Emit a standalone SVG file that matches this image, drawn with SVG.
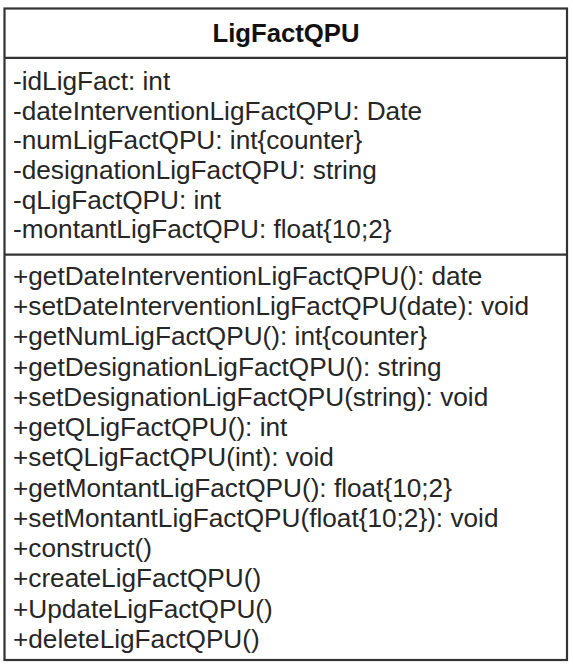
<svg xmlns="http://www.w3.org/2000/svg" width="573" height="666" viewBox="0 0 573 666">
<style>
.t{font-family:"Liberation Sans",Arial,sans-serif;font-size:25px;fill:#262626}
.h{font-family:"Liberation Sans",Arial,sans-serif;font-size:25.7px;font-weight:bold;fill:#111}
.b{fill:#fff;stroke:#333;stroke-width:2.2}
.d{stroke:#333;stroke-width:2.2}
</style>
<rect width="573" height="666" fill="#fff"/>
<g id="LigFactQPU">
<rect class="b" x="4.5" y="8.5" width="562.5" height="651.5"/>
<line class="d" x1="4.5" y1="57.8" x2="567" y2="57.8"/>
<line class="d" x1="4.5" y1="254.7" x2="567" y2="254.7"/>
<text class="h" x="286" y="41.8" text-anchor="middle">LigFactQPU</text>
<g transform="translate(13,0) scale(1.048,1)">
<text class="t" x="0" y="90">-idLigFact: int</text>
<text class="t" x="0" y="119.7">-dateInterventionLigFactQPU: Date</text>
<text class="t" x="0" y="149.4">-numLigFactQPU: int{counter}</text>
<text class="t" x="0" y="179.1">-designationLigFactQPU: string</text>
<text class="t" x="0" y="208.8">-qLigFactQPU: int</text>
<text class="t" x="0" y="238.5">-montantLigFactQPU: float{10;2}</text>
<text class="t" x="0" y="285">+getDateInterventionLigFactQPU(): date</text>
<text class="t" x="0" y="315.25">+setDateInterventionLigFactQPU(date): void</text>
<text class="t" x="0" y="345.5">+getNumLigFactQPU(): int{counter}</text>
<text class="t" x="0" y="375.75">+getDesignationLigFactQPU(): string</text>
<text class="t" x="0" y="406">+setDesignationLigFactQPU(string): void</text>
<text class="t" x="0" y="436.25">+getQLigFactQPU(): int</text>
<text class="t" x="0" y="466.5">+setQLigFactQPU(int): void</text>
<text class="t" x="0" y="496.75">+getMontantLigFactQPU(): float{10;2}</text>
<text class="t" x="0" y="527">+setMontantLigFactQPU(float{10;2}): void</text>
<text class="t" x="0" y="557.25">+construct()</text>
<text class="t" x="0" y="587.5">+createLigFactQPU()</text>
<text class="t" x="0" y="617.75">+UpdateLigFactQPU()</text>
<text class="t" x="0" y="648">+deleteLigFactQPU()</text>
</g>
</g>
<g id="connectors"/>
</svg>
